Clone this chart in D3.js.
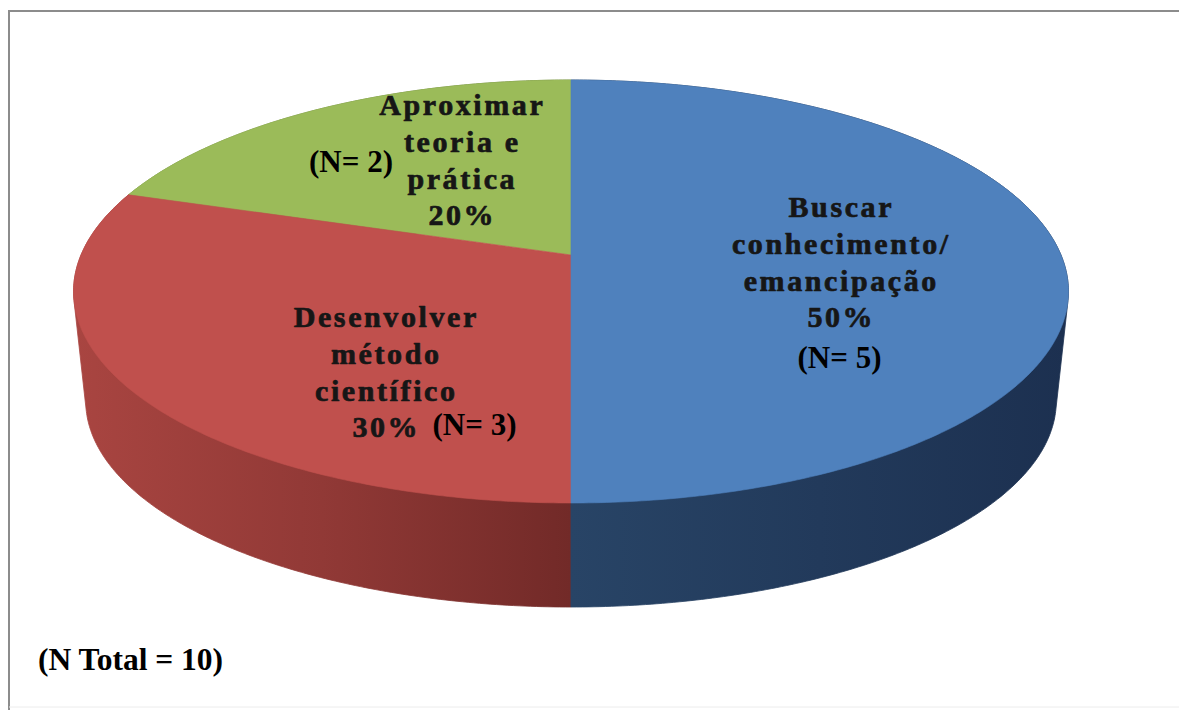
<!DOCTYPE html>
<html>
<head>
<meta charset="utf-8">
<script src="https://cdn.jsdelivr.net/npm/d3@7/dist/d3.min.js"></script>
<style>
  html, body { margin: 0; padding: 0; background: #ffffff; }
  svg { display: block; }
</style>
</head>
<body>
<script>
// ---- data ----
const categories = ["Buscar conhecimento/ emancipação", "Desenvolver método científico", "Aproximar teoria e prática"];
const categoryLines = [["Buscar", "conhecimento/", "emancipação"], ["Desenvolver", "método", "científico"], ["Aproximar", "teoria e", "prática"]];
const counts = [5, 3, 2];

// ---- styling ----
const topColors = ["#4F81BD", "#C0504D", "#9BBB59"];
const sideStops = [
  ["#284466", "#223a5b", "#1c3050"],   // blue rim, from centre outwards
  ["#a94541", "#913936", "#722a28"],   // red rim, from the left edge to the centre
  ["#7d9847", "#6f8a3d", "#637b36"]
];

// label placement (centre x, first baseline) and the count tag next to it
const labelLayout = [
  { x: 840, y: 217, nx: 839.5, ny: 368 },
  { x: 385, y: 327, nx: 474.5, ny: 435 },
  { x: 461, y: 115, nx: 351, ny: 172 }
];
const lineGap = 36.8;

const W = 1179, H = 710;
const svg = d3.select("body").append("svg").attr("width", W).attr("height", H);

// ---- frame ----
svg.append("line").attr("x1", 8).attr("y1", 11).attr("x2", W).attr("y2", 11)
  .attr("stroke", "#8c8c8c").attr("stroke-width", 2);
svg.append("line").attr("x1", 9).attr("y1", 10).attr("x2", 9).attr("y2", H)
  .attr("stroke", "#8c8c8c").attr("stroke-width", 2);
svg.append("line").attr("x1", 9).attr("y1", 707).attr("x2", W).attr("y2", 707)
  .attr("stroke", "#ececec").attr("stroke-width", 1);

// ---- perspective disc projection ----
const P = 0.1726;                       // perspective strength (front appears larger)
const topFace = { cx: 571, cy: 255, a: 490, b: 205.2 };
const baseFace = { cx: 571, cy: 365.3, a: 478, b: 200 };

function project(t, f) {
  const u = Math.sin(t), v = -Math.cos(t);
  const k = 1 / (1 - P * v);
  return [f.cx + f.a * u * k, f.cy + f.b * v * k];
}
function arcPoints(t1, t2, f) {
  const n = Math.max(8, Math.ceil((t2 - t1) / 0.01));
  return d3.range(n + 1).map(i => project(t1 + (t2 - t1) * i / n, f));
}

const pie = d3.pie().sort(null).value(d => d)(counts);
const total = d3.sum(counts);
const pct = d3.format(".0%");

const defs = svg.append("defs");
pie.forEach((d, i) => {
  const [xa, xb] = i === 0 ? [571, 1068] : [73, 571];
  const g = defs.append("linearGradient")
    .attr("id", "side" + i).attr("gradientUnits", "userSpaceOnUse")
    .attr("x1", xa).attr("x2", xb).attr("y1", 0).attr("y2", 0);
  sideStops[i].forEach((c, j) => g.append("stop").attr("offset", j / 2).attr("stop-color", c));
});

const lineGen = d3.line();

// ---- rim (side walls), back slices first ----
const sideOrder = [2, 1, 0];
svg.append("g").selectAll("path")
  .data(sideOrder.map(i => ({ d: pie[i], i })))
  .join("path")
  .attr("d", ({ d }) => {
    const pts = arcPoints(d.startAngle, d.endAngle, topFace)
      .concat(arcPoints(d.startAngle, d.endAngle, baseFace));
    return lineGen(d3.polygonHull(pts)) + "Z";
  })
  .attr("fill", ({ i }) => `url(#side${i})`)
  .attr("stroke", ({ i }) => `url(#side${i})`)
  .attr("stroke-width", 0.8);

// ---- top surface ----
svg.append("g").selectAll("path")
  .data(sideOrder.map(i => ({ d: pie[i], i })))
  .join("path")
  .attr("d", ({ d }) => {
    const pts = [[topFace.cx, topFace.cy]].concat(arcPoints(d.startAngle, d.endAngle, topFace));
    return lineGen(pts) + "Z";
  })
  .attr("fill", ({ i }) => topColors[i])
  .attr("stroke", ({ i }) => topColors[i])
  .attr("stroke-width", 0.6);

// ---- labels ----
const serif = "'Liberation Serif', 'Times New Roman', Times, serif";
const ls = 2.6;
const labels = svg.append("g");
pie.forEach((d, i) => {
  const L = labelLayout[i];
  const lines = categoryLines[i].concat([pct(d.value / total)]);
  const txt = labels.append("text")
    .attr("font-family", serif).attr("font-weight", "bold").attr("font-size", 30)
    .attr("letter-spacing", ls).attr("text-anchor", "middle")
    .attr("fill", "#161616").attr("stroke", "#161616").attr("stroke-width", 0.7)
    .attr("stroke-linejoin", "round");
  lines.forEach((s, j) => {
    txt.append("tspan").attr("x", L.x + ls / 2).attr("y", L.y + j * lineGap).text(s);
  });
  labels.append("text")
    .attr("x", L.nx).attr("y", L.ny)
    .attr("font-family", serif).attr("font-weight", "bold").attr("font-size", 31)
    .attr("text-anchor", "middle").attr("fill", "#000")
    .text(`(N= ${d.value})`);
});

svg.append("text")
  .attr("x", 38).attr("y", 670)
  .attr("font-family", serif).attr("font-weight", "bold").attr("font-size", 31.5)
  .attr("fill", "#000")
  .text(`(N Total = ${total})`);
</script>
</body>
</html>
